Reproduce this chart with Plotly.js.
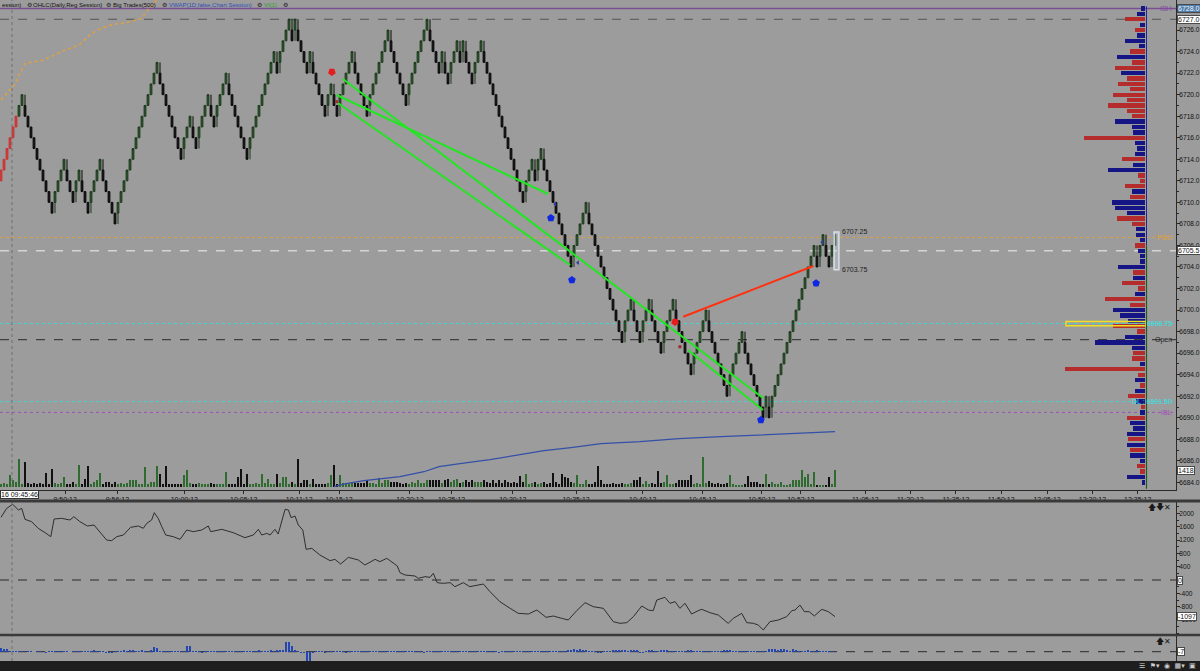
<!DOCTYPE html>
<html><head><meta charset="utf-8">
<script src="https://cdn.plot.ly/plotly-3.0.1.min.js"></script>
<style>html,body{margin:0;padding:0;background:#9c9c9c;overflow:hidden}#chart{width:1200px;height:671px}</style>
</head><body><div id="chart"></div><script>
// ---------- DATA ----------
const BOX = 1; // renko box size (points)
const preSessionBars = 6;
const closes = [
6713,6714,6715,6716,6717,6718,
6719,6720,
6718,6717,6716,6715,6714,6713,6712,6711,6710,6709,
6711,6712,6713,6714,
6712,6711,6710,
6712,6713,
6711,6710,6709,
6711,6712,6713,6714,
6712,6711,6710,6709,6708,
6710,6711,6712,6713,6714,6715,6716,6717,6718,6719,6720,6721,6722,6723,
6721,6720,6719,6718,6717,6716,6715,6714,
6716,6717,6718,
6716,6715,
6717,6718,6719,6720,
6718,6717,
6719,6720,6721,6722,
6720,6719,6718,6717,6716,6715,6714,
6716,6717,6718,6719,6720,6721,6722,6723,6724,
6722,
6724,6725,6726,6727,
6725,
6727,
6725,6724,6723,6722,
6724,
6722,6721,6720,6719,6718,
6720,6721,
6719,6718,
6720,6721,6722,6723,6724,
6722,6721,6720,6719,6718,
6720,6721,6722,6723,6724,6725,6726,
6724,6723,6722,6721,6720,6719,
6721,6722,6723,6724,6725,6726,6727,
6725,6724,6723,6722,6724,6722,6721,6723,6724,6725,6723,6725,6723,6722,6721,6723,6724,6725,
6723,6722,6721,6720,6719,6718,6717,6716,6715,6714,6713,6712,6711,6710,
6712,6713,6714,6712,6714,6715,
6713,6712,6711,6710,6709,6708,6707,6706,6705,6704,
6706,6707,6708,6709,6710,
6708,6707,6706,6705,6704,6703,6702,6701,6700,6699,6698,6697,
6699,6700,6701,
6699,6698,6697,
6699,6700,6701,
6699,6698,6697,6696,
6698,6699,6700,6701,
6699,6698,6697,6696,6695,6694,
6696,6697,6698,6699,6700,
6698,6697,6696,6695,6694,6693,6692,
6694,6695,6696,6697,6698,
6696,6695,6694,6693,6692,6691,6690,6692,6690,
6692,6693,6694,6695,6696,6697,6698,6699,6700,6701,6702,6703,6704,6705,6706,
6704,6706,6707,6705,6704,6706,6707
];
const volumes = [
3,4,3,12,7,5,28,3,25,4, 3,4,3,4,3,14,3,18,4,3, 4,10,3,3,5,3,22,3,8,21,
3,5,7,14,3,5,5,3,5,3, 4,3,4,7,7,7,3,3,20,3, 5,5,21,13,3,21,3,3,3,3,
3,12,17,4,3,3,4,3,3,3, 4,3,3,3,3,15,3,3,3,10, 18,3,13,3,3,4,3,13,4,8,
3,3,13,4,10,10,3,5,3,28, 4,7,7,3,8,3,3,3,3,4, 12,22,3,12,4,4,4,4,4,4,
4,4,7,4,4,3,9,4,7,7, 5,5,5,4,3,4,3,5,4,7, 4,4,7,7,7,7,7,4,7,8,
5,7,8,4,5,7,5,7,5,5, 5,7,5,4,7,4,7,4,7,5, 4,5,4,11,5,13,3,4,5,3,
4,5,3,4,14,5,3,13,10,9, 5,4,12,3,3,7,3,3,5,21, 7,3,3,3,4,3,3,4,3,3,
4,7,7,10,3,6,3,4,3,16, 4,5,12,3,3,4,7,7,7,7, 12,3,4,3,30,4,6,4,3,4,
3,3,4,12,3,2,2,2,3,11, 5,5,5,3,3,13,3,5,3,3, 5,2,2,3,7,7,7,17,10,13,
3,15,2,2,2,2,10,3,17
];
const lowerHist = [
33,30,25,10,10,10,8,10,-5,10, 10,-5,10,8,-5,-8,10,10,8,10, 10,8,10,-5,10,10,8,10,10,10,
12,15,12,10,8,-17,-17,-15,10,12, 12,15,10,15,18,12,10,15,10,12, 20,43,40,10,8,10,10,8,10,10,
10,12,57,55,10,8,10,-8,10,8, 10,8,10,8,10,8,10,10,8,10, 10,12,10,8,10,12,15,10,12,10,
15,12,20,15,20,97,97,57,20,8, -10,-15,-90,-90,-10,10,8,10,-8,10, 10,8,10,10,8,-8,10,10,12,10,
10,10,8,10,10,10,12,12,10,10, 10,8,10,10,12,10,10,10,8,10, 10,-10,10,12,10,10,10,10,10,8,
10,10,12,10,10,10,8,10,10,10, 12,10,10,8,10,10,-8,10,10,10, 10,12,10,10,8,10,10,8,10,10,
10,10,12,10,10,10,12,12,10,15, 20,23,20,23,18,15,10,10,8,-10, -10,10,10,12,15,20,20,18,15,10,
15,20,18,-10,-15,10,15,20,10,12, 18,20,15,10,8,10,10,12,10,20, 15,10,8,10,10,12,10,10,8,10,
10,15,20,18,10,10,10,8,10,12, 10,10,10,8,10,12,30,25,28,20, 30,28,20,10,25,15,12,10,10,15,
10,8,20,12,10,12,10,8,-7
];
// cumulative delta (panel 2): bar position, value
const cdIdx = [0,1.9,3.9,4.7,5.8,6.9,8,10.2,12.4,14.7,16.6,17.7,20.2,23,24.3,26.3,28.8,31,32.8,35.2,36.9,38.6,40.8,43.2,45.8,47.4,48.6,50.2,51.1,52.4,53.6,54.9,57.4,59.7,61.9,64.1,66.9,69.1,69.9,73.6,77.4,81.3,84.1,85.8,86.9,88.6,89.7,91.3,92.4,93.6,94.7,95.8,96.7,98,99.1,100.6,101.7,103.6,106.3,109.7,111.3,113.2,115.8,119.1,121.3,124.7,126.3,128.6,132.1,133,134.7,138,139.1,141.3,143,144.1,145.4,147.4,149.7,151.3,154.1,156.3,160.8,163,166.3,169.7,172.4,175.8,178.6,181.7,184.1,186.9,189.1,191.9,194.7,197.4,200.8,204.1,206.3,208.6,210.8,213.6,215.8,217.4,218.6,221.3,223,224.7,226.3,228,230.2,232.4,233.6,236.3,239.1,242.4,244.1,246.9,248.6,250.8,252.4,254.1,256.3,259.1,261.9,263.6,264.7,266.3,267.8,269.4,271.1,273.6,275.8,278];
const cdVal = [1880,2150,2270,2200,2100,2150,1820,1750,1550,1420,1300,1830,1850,1800,1900,1750,1620,1650,1450,1200,1180,1300,1350,1580,1620,1550,1700,1800,2020,1850,1600,1350,1300,1220,1500,1450,1500,1620,1450,1520,1420,1270,1350,1520,1350,1400,1350,1520,1380,1800,2120,2100,1870,1920,1650,1500,920,950,750,580,620,480,680,600,450,620,550,650,420,220,150,120,50,100,80,200,-80,-100,-80,-200,-80,-200,-120,-350,-650,-850,-1000,-1020,-900,-1120,-1080,-1150,-1200,-920,-680,-800,-850,-1250,-1300,-1280,-1100,-780,-900,-920,-600,-520,-700,-650,-850,-700,-1020,-920,-880,-980,-1050,-1300,-1150,-1000,-1280,-1300,-1350,-1500,-1250,-1200,-1100,-920,-900,-750,-950,-950,-1080,-880,-950,-1097];
// orange dotted line (price units)
const orangeIdx = [0,3,5,6,8,10,14,18,21,26,29,32,37,42,47,49,52,55];
const orangeVal = [6719.5,6720.4,6721.1,6721.8,6722.9,6723.0,6723.2,6723.7,6724.1,6724.6,6725.4,6726.0,6726.5,6726.7,6727.1,6727.9,6728.8,6729.5];
// blue line in volume pane
const blueIdx = [111,115,121,128,133,141,146,153,163,173,181,190,200,213,226,240,255,266,278];
const blueVal = [0,3,6,8,10,15,20,23,27,32,36,39,43,45,48,50,52,53,55];
// drawn trend lines
const greenLineX = [[114.0,254.0],[111.9,182.4],[112.4,189.7],[229.0,254.0]];
const greenLineY = [[6721.45,6691.83],[6719.97,6710.78],[6719.2,6704.18],[6696.29,6690.72]];
const redLineX = [227.4,270.8];
const redLineY = [6699.38,6704.09];
// signal markers
const sellIdx = [110.3,224.7], sellPx = [6722.1,6698.9];
const buyIdx = [183.3,190.3,253.3,271.7], buyPx = [6708.55,6702.8,6689.8,6702.5];
const dotIdx = [111.9,226.3], dotPx = [6719.35,6696.6];
const leftIdx = [184.7,192.3,273.7], leftPx = [6709.85,6704.4,6706.3];
// range labels
const rangeHi = 6707.25, rangeLo = 6703.75, rangeIdx = [277.7,279.3];
// time axis
const timeTickPos = [21.4,38.8,61.1,80.9,99.4,112.7,136.3,150.2,170.6,191.7,213.9,233.8,253.6,266.6,288.1,303.1,318.3,333.4,348.7,363.8,378.9];
const timeTickText = ['9:50:12','9:56:12','10:00:12','10:05:12','10:11:12','10:15:12','10:20:12','10:25:12','10:30:12','10:35:12','10:40:12','10:45:12','10:50:12','10:52:12','11:05:12','11:20:12','11:35:12','11:50:12','12:05:12','12:20:12','12:35:12'];
const priceTicks = [6684,6686,6688,6690,6692,6694,6696,6698,6700,6702,6704,6706,6708,6710,6712,6714,6716,6718,6720,6722,6724,6726];
const deltaTicks = [2000,1600,1200,800,400,0,-400,-800,-1200];
// key levels
const levelPrice = [6728.0,6727.0,6706.75,6705.5,6698.75,6697.25,6691.5,6690.5];
const levelColor = ['#7a4f92','#555555','#e0a040','#f2f2f2','#40d6d6','#2a2a2a','#40d6d6','#a050b8'];
const levelDash  = ['solid','dash','dot','dash','dot','dash','dot','dot'];
// volume profile (0.5 pt rows)
const profPrice = [6728.0,6727.5,6727.0,6726.5,6726.0,6725.5,6725.0,6724.5,6724.0,6723.5,6723.0,6722.5,6722.0,6721.5,6721.0,6720.5,6720.0,6719.5,6719.0,6718.5,6718.0,6717.5,6717.0,6716.5,6716.0,6715.5,6715.0,6714.5,6714.0,6713.5,6713.0,6712.5,6712.0,6711.5,6711.0,6710.5,6710.0,6709.5,6709.0,6708.5,6708.0,6707.5,6707.0,6706.5,6706.0,6705.5,6705.0,6704.5,6704.0,6703.5,6703.0,6702.5,6702.0,6701.5,6701.0,6700.5,6700.0,6699.5,6699.0,6698.5,6698.0,6697.5,6697.0,6696.5,6696.0,6695.5,6695.0,6694.5,6694.0,6693.5,6693.0,6692.5,6692.0,6691.5,6691.0,6690.5,6690.0,6689.5,6689.0,6688.5,6688.0,6687.5,6687.0,6686.5,6686.0,6685.5,6685.0,6684.5,6684.0];
const profVol = [4,8,20,5,10,8,20,6,15,28, 13,30,24,18,27,15,32,18,37,18, 13,30,13,12,61,10,8,10,23,12, 37,7,5,20,13,15,33,30,18,28, 13,9,9,5,10,7,5,5,27,12, 12,23,7,10,40,15,32,25,17,32, 8,20,50,13,12,13,5,80,7,10, 5,10,17,9,4,5,18,15,12,18, 17,18,15,15,5,8,5,18,3];
const profSide = 'bbrbrbbbrb'+'rrbrrrrrrr'+'rbbbrbbbrb'+'brrrbrbbbr'+'rbbbrbbbbr'+'brrbrrbbbr'+'rbbbrrbrrb'+'rbrbrbrbbb'+'rbrbbrrbb';
const pocPrice = 6698.75;

// ---------- BUILD ----------
const n = closes.length;
const idx = closes.map((_, i) => i);
const opens = [], highs = [], lows = [], dirs = [];
for (let i = 0; i < n; i++) {
  const prev = i > 0 ? closes[i-1] : closes[0] - BOX;
  const dir = closes[i] > prev ? 1 : -1;
  const o = closes[i] - dir * BOX;
  let hi = Math.max(o, closes[i]), lo = Math.min(o, closes[i]);
  if (i > 0 && dirs[i-1] !== dir) { if (dir > 0) lo = Math.min(lo, prev); else hi = Math.max(hi, prev); }
  dirs.push(dir); opens.push(o); highs.push(hi); lows.push(lo);
}
const sl = (a, s, e) => a.slice(s, e);
const traces = [];
traces.push({type:'candlestick', x:sl(idx,0,preSessionBars), open:sl(opens,0,preSessionBars), high:sl(highs,0,preSessionBars), low:sl(lows,0,preSessionBars), close:sl(closes,0,preSessionBars),
  increasing:{line:{color:'#c83232',width:1},fillcolor:'#d83c3c'}, decreasing:{line:{color:'#c83232',width:1},fillcolor:'#d83c3c'}, hoverinfo:'skip', xaxis:'x', yaxis:'y'});
traces.push({type:'candlestick', x:sl(idx,preSessionBars), open:sl(opens,preSessionBars), high:sl(highs,preSessionBars), low:sl(lows,preSessionBars), close:sl(closes,preSessionBars),
  increasing:{line:{color:'#1c3a1c',width:1},fillcolor:'#2c5a2c'}, decreasing:{line:{color:'#0a0a0a',width:1},fillcolor:'#161616'}, hoverinfo:'skip', xaxis:'x', yaxis:'y'});
// volume
traces.push({type:'bar', x:idx, y:volumes, width:0.55, marker:{color:dirs.map(d => d > 0 ? '#2f6a2f' : '#111111'), line:{width:0}}, xaxis:'x', yaxis:'y4', hoverinfo:'skip'});
traces.push({type:'scatter', mode:'lines', x:blueIdx, y:blueVal, line:{color:'#3450a8', width:1.2}, xaxis:'x', yaxis:'y4', hoverinfo:'skip'});
// orange dotted
traces.push({type:'scatter', mode:'lines', x:orangeIdx, y:orangeVal, line:{color:'#e0a040', width:1.5, dash:'dot'}, xaxis:'x', yaxis:'y', hoverinfo:'skip'});
// volume profile
traces.push({type:'bar', orientation:'h', y:profPrice, x:profVol, width:0.4,
  marker:{color:profSide.split('').map(s => s === 'r' ? '#b42c2c' : '#151585'), line:{width:0}}, xaxis:'x4', yaxis:'y', hoverinfo:'skip'});
// trend lines
for (let k = 0; k < greenLineX.length; k++) {
  traces.push({type:'scatter', mode:'lines', x:greenLineX[k], y:greenLineY[k], line:{color:'#22e622', width:2}, xaxis:'x', yaxis:'y', hoverinfo:'skip'});
}
traces.push({type:'scatter', mode:'lines', x:redLineX, y:redLineY, line:{color:'#ff3010', width:2}, xaxis:'x', yaxis:'y', hoverinfo:'skip'});
// markers
traces.push({type:'scatter', mode:'markers', x:sellIdx, y:sellPx, marker:{symbol:'pentagon', angle:180, size:8, color:'#e41c1c', line:{width:0}}, xaxis:'x', yaxis:'y', hoverinfo:'skip'});
traces.push({type:'scatter', mode:'markers', x:buyIdx, y:buyPx, marker:{symbol:'pentagon', size:8, color:'#1028e0', line:{width:0}}, xaxis:'x', yaxis:'y', hoverinfo:'skip'});
traces.push({type:'scatter', mode:'markers', x:dotIdx, y:dotPx, marker:{symbol:'square', size:3, color:'#a02a2a'}, xaxis:'x', yaxis:'y', hoverinfo:'skip'});
traces.push({type:'scatter', mode:'markers', x:leftIdx, y:leftPx, marker:{symbol:'triangle-left', size:4, color:'#3040a0'}, xaxis:'x', yaxis:'y', hoverinfo:'skip'});
// panel 2
traces.push({type:'scatter', mode:'lines', x:cdIdx, y:cdVal, line:{color:'#2e2e2e', width:1}, xaxis:'x2', yaxis:'y2', hoverinfo:'skip'});
// panel 3
traces.push({type:'bar', x:idx, y:lowerHist, width:0.7, marker:{color:'#2446b0', line:{width:0}}, xaxis:'x3', yaxis:'y3', hoverinfo:'skip'});

const PW = 1176; // plot width px
const px = v => v / PW;
const py = v => 1 - v / 671;
const XR = [-0.333, 391.667];
const AX = '#2a2a2a';
const F = 'Liberation Sans, Arial, sans-serif';
const baseX = {range:XR, showgrid:false, zeroline:false, fixedrange:true};

const shapes = [];
levelPrice.forEach((p, i) => shapes.push({type:'line', xref:'paper', yref:'y', x0:0, x1:1, y0:p, y1:p, layer:'below',
  line:{color:levelColor[i], width: i === 0 ? 1.6 : 1, dash:levelDash[i]}}));
shapes.push({type:'line', xref:'paper', yref:'y2', x0:0, x1:1, y0:0, y1:0, layer:'below', line:{color:'#2a2a2a', width:1, dash:'dash'}});
shapes.push({type:'line', xref:'paper', yref:'y3', x0:0, x1:1, y0:0, y1:0, layer:'below', line:{color:'#2a2a2a', width:1, dash:'dash'}});
// POC highlight
shapes.push({type:'rect', xref:'x4', yref:'y', x0:79, x1:-1, y0:pocPrice-0.2, y1:pocPrice+0.2, line:{color:'#f0e020', width:1.5}, fillcolor:'rgba(0,0,0,0)'});
shapes.push({type:'line', xref:'x4', yref:'y', x0:-1.5, x1:-1.5, y0:6683.4, y1:6706, line:{color:'#1f5a1f', width:1.2}});
shapes.push({type:'line', xref:'x4', yref:'y', x0:-1.5, x1:-1.5, y0:6706, y1:6728.2, line:{color:'#1c2a90', width:1}});
// range bracket
shapes.push({type:'rect', xref:'x', yref:'y', x0:rangeIdx[0], x1:rangeIdx[1], y0:rangeLo, y1:rangeHi, line:{color:'#d6e0ea', width:1.5}, fillcolor:'rgba(210,222,234,0.35)'});
// crosshair
shapes.push({type:'line', xref:'paper', yref:'paper', x0:px(12), x1:px(12), y0:py(661), y1:1, line:{color:'#6e6e6e', width:1, dash:'dot'}});
// separators
shapes.push({type:'line', xref:'paper', yref:'paper', x0:0, x1:1+24/PW, y0:py(501), y1:py(501), line:{color:'#3a3a3a', width:3}});
shapes.push({type:'line', xref:'paper', yref:'paper', x0:0, x1:1+24/PW, y0:py(635), y1:py(635), line:{color:'#3a3a3a', width:2.5}});
// status bar
shapes.push({type:'rect', xref:'paper', yref:'paper', x0:0, x1:1+24/PW, y0:0, y1:py(661), line:{width:0}, fillcolor:'#1e1e1e'});

const ann = [];
// header
[['ession)',0,'#111'],['⚙',25,'#222'],['OHLC(Daily,Reg Session)',31,'#111'],['⚙',104,'#222'],['Big Trades(500)',111,'#111'],['⚙',160,'#222'],
 ['VWAP(1D,false,Chart Session)',167,'#2f4fb8'],['⚙',255,'#222'],['VI(1)',262,'#2aa02a'],['⚙',281,'#222']].forEach(h => {
  ann.push({xref:'paper', yref:'paper', x:px(h[1]), y:py(5), xanchor:'left', yanchor:'middle', text:h[0], showarrow:false, font:{family:F, size:6, color:h[2]}});
});
function boxLabel(text, yref, y, bg, fg) {
  ann.push({xref:'paper', yref:yref, x:px(1177), y:y, xanchor:'left', yanchor:'middle', text:text, showarrow:false,
    bgcolor:bg, bordercolor:'#4a4a4a', borderwidth:1, borderpad:0, font:{family:F, size:7, color:fg}});
}
boxLabel('6728.0', 'y', 6728.0, '#4f7fae', '#f4f4f4');
boxLabel('6727.0', 'y', 6727.0, '#ffffff', '#111');
boxLabel('6705.5', 'y', 6705.5, '#ffffff', '#111');
boxLabel('1418', 'paper', py(471), '#ffffff', '#111');
boxLabel('0', 'y2', 0, '#ffffff', '#111');
boxLabel(String(cdVal[cdVal.length-1]), 'y2', cdVal[cdVal.length-1], '#ffffff', '#111');
boxLabel(String(lowerHist[lowerHist.length-1]), 'y3', 0, '#ffffff', '#111');
function levelText(text, y, color) {
  ann.push({xref:'paper', yref:'y', x:px(1174), y:y, xanchor:'right', yanchor:'middle', text:text, showarrow:false, font:{family:F, size:7, color:color}});
}
levelText('IBH', 6728.0, '#8a4aa6');
levelText('PDC', 6706.75, '#e0a040');
levelText(': 6698.75', 6698.75, '#40e0e0');
levelText('Open', 6697.25, '#222');
levelText('DL : 6691.50', 6691.5, '#40e0e0');
levelText('IBL', 6690.5, '#a050b8');
ann.push({xref:'x', yref:'y', x:279.7, y:rangeHi, xanchor:'left', yanchor:'middle', text:rangeHi.toFixed(2), showarrow:false, font:{family:F, size:7, color:'#222'}});
ann.push({xref:'x', yref:'y', x:279.7, y:rangeLo, xanchor:'left', yanchor:'middle', text:rangeLo.toFixed(2), showarrow:false, font:{family:F, size:7, color:'#222'}});
// crosshair time label
ann.push({xref:'paper', yref:'paper', x:0, y:py(494), xanchor:'left', yanchor:'middle', text:'16 09:45:46', showarrow:false,
  bgcolor:'#ffffff', bordercolor:'#333', borderwidth:1, borderpad:0, font:{family:F, size:7, color:'#111'}});
// pane icons
ann.push({xref:'paper', yref:'paper', x:px(1173), y:py(507), xanchor:'right', yanchor:'middle', text:'🡅🡇✕', showarrow:false, font:{family:'DejaVu Sans', size:8, color:'#1a1a1a'}});
ann.push({xref:'paper', yref:'paper', x:px(1173), y:py(641), xanchor:'right', yanchor:'middle', text:'🡅✕', showarrow:false, font:{family:'DejaVu Sans', size:8, color:'#1a1a1a'}});
ann.push({xref:'paper', yref:'paper', x:px(1198), y:py(666), xanchor:'right', yanchor:'middle', text:'☰  ⚑▾  ◉  ▦▾  ▣', showarrow:false, font:{family:'DejaVu Sans', size:7, color:'#cfcfcf'}});

const layout = {
  width:1200, height:671, margin:{l:0, r:24, t:0, b:0},
  paper_bgcolor:'#9c9c9c', plot_bgcolor:'#9c9c9c', showlegend:false,
  font:{family:F, size:7, color:'#111'},
  boxgap:0.15, bargap:0,
  xaxis:Object.assign({}, baseX, {domain:[0,1], anchor:'y', showline:true, linecolor:AX, linewidth:1, ticks:'outside', ticklen:3, tickcolor:AX,
    tickmode:'array', tickvals:timeTickPos, ticktext:timeTickText, tickfont:{family:F, size:7, color:'#111'}, rangeslider:{visible:false}}),
  yaxis:{domain:[py(489.5),1], range:[6683.34,6728.79], side:'right', anchor:'x', showgrid:false, zeroline:false, showline:true, linecolor:AX,
    ticks:'outside', ticklen:3, tickcolor:AX, tickmode:'array', tickvals:priceTicks, ticktext:priceTicks.map(v => v.toFixed(1)),
    ticklabelstandoff:-2, tickfont:{family:F, size:6.6, color:'#111'},
    minor:{ticks:'outside', ticklen:2, tick0:6684, dtick:1, tickcolor:AX}, fixedrange:true},
  xaxis4:{overlaying:'x', anchor:'y', range:[1145,-31], visible:false, fixedrange:true},
  yaxis4:{overlaying:'y', anchor:'x', range:[-2.8,486.7], visible:false, fixedrange:true},
  xaxis2:Object.assign({}, baseX, {domain:[0,1], anchor:'y2', showticklabels:false, ticks:''}),
  yaxis2:{domain:[py(634), py(502)], range:[-1620,2340], side:'right', anchor:'x2', showgrid:false, zeroline:false, showline:true, linecolor:AX,
    ticks:'outside', ticklen:3, tickcolor:AX, tickmode:'array', tickvals:deltaTicks, ticktext:deltaTicks.map(String),
    ticklabelstandoff:-2, tickfont:{family:F, size:6.6, color:'#111'},
    minor:{ticks:'outside', ticklen:2, tick0:0, dtick:200, tickcolor:AX}, fixedrange:true},
  xaxis3:Object.assign({}, baseX, {domain:[0,1], anchor:'y3', showticklabels:false, ticks:''}),
  yaxis3:{domain:[py(661), py(636)], range:[-93,157], side:'right', anchor:'x3', showgrid:false, zeroline:false, showline:true, linecolor:AX,
    showticklabels:false, ticks:'', fixedrange:true},
  shapes:shapes, annotations:ann
};
Plotly.newPlot('chart', traces, layout, {staticPlot:true, displayModeBar:false});
</script></body></html>
